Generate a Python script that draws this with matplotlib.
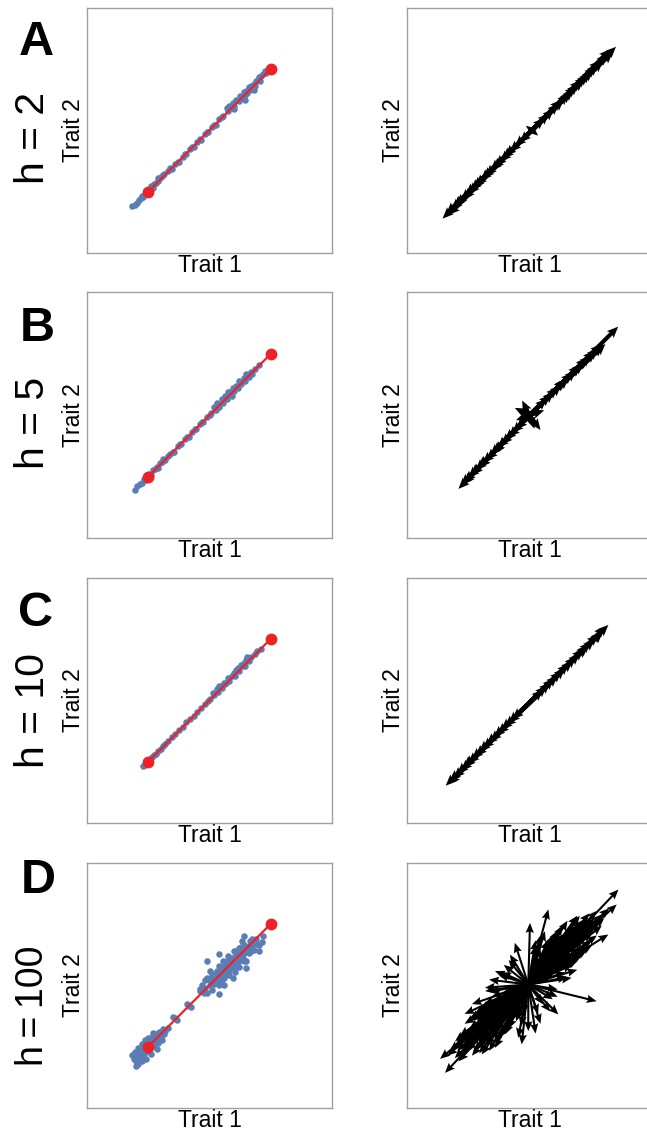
import matplotlib
matplotlib.use("Agg")
import matplotlib.pyplot as plt

W, H = 647, 1135
plt.rcParams['font.family'] = ['Liberation Sans', 'DejaVu Sans']

BLUE = "#5b7db6"
RED = "#eb2328"
SPINE = "#a0a0a0"

row_letters = ["A", "B", "C", "D"]
row_titles = ["h = 2", "h = 5", "h = 10", "h\u2009=\u2009100"]
x_label = "Trait 1"
y_label = "Trait 2"

# red path (start, end)
path_x = [0.25, 0.75]
path_y = [0.25, 0.75]

# ---- scatter points (left panels) ----
ax_A = [0.185,0.195,0.205,0.212,0.22,0.225,0.23,0.238,0.245,0.25,0.258,0.265,0.27,0.275,0.282,0.29,0.295,0.30,0.305,0.31,0.315,
        0.34,0.37,0.40,0.43,0.46,0.49,0.52,0.55,
        0.57,0.575,0.58,0.59,0.595,0.60,0.61,0.62,0.625,0.63,0.64,0.645,0.65,0.655,0.66,0.665,0.67,0.68,0.685,0.69,0.70,0.705,0.71,0.72,0.725,0.73,
        0.578,0.645,0.60,0.68,0.26,0.29,
        0.33,0.345,0.36,0.375,0.39,0.405,0.42,0.435,0.45,0.465,0.48,0.495,0.51,0.525,0.54,0.555]
ay_A = [0.190,0.195,0.205,0.214,0.225,0.232,0.228,0.24,0.255,0.248,0.262,0.27,0.265,0.282,0.285,0.295,0.302,0.31,0.315,0.318,0.32,
        0.345,0.372,0.403,0.433,0.463,0.492,0.523,0.555,
        0.59,0.58,0.595,0.59,0.61,0.6,0.625,0.62,0.64,0.63,0.655,0.642,0.66,0.65,0.675,0.665,0.68,0.69,0.68,0.70,0.715,0.70,0.72,0.73,0.74,0.735,
        0.598,0.625,0.585,0.665,0.272,0.305,
        0.334,0.343,0.363,0.372,0.393,0.402,0.423,0.432,0.453,0.462,0.483,0.492,0.514,0.522,0.544,0.56]

ax_B = [0.195,0.205,0.215,0.225,0.232,0.24,0.248,0.255,0.262,0.27,0.278,0.285,0.29,0.298,0.305,0.312,0.32,0.33,
        0.35,0.38,0.41,0.44,0.47,0.50,
        0.52,0.525,0.535,0.54,0.55,0.555,0.565,0.57,0.58,0.585,0.595,0.60,0.61,0.615,0.625,0.63,0.64,0.645,0.655,0.66,0.67,0.675,0.685,0.70,
        0.53,0.575,0.59,0.62,0.65,
        0.34,0.355,0.37,0.385,0.40,0.415,0.43,0.445,0.46,0.475,0.49,0.505]
ay_B = [0.197,0.21,0.218,0.225,0.24,0.236,0.252,0.262,0.258,0.275,0.28,0.29,0.285,0.305,0.31,0.32,0.318,0.335,
        0.352,0.382,0.412,0.442,0.472,0.503,
        0.535,0.52,0.545,0.535,0.565,0.55,0.58,0.565,0.595,0.585,0.61,0.60,0.62,0.612,0.635,0.628,0.65,0.64,0.665,0.657,0.675,0.67,0.69,0.705,
        0.55,0.595,0.58,0.64,0.67,
        0.343,0.352,0.373,0.382,0.403,0.412,0.433,0.442,0.463,0.472,0.493,0.508]

ax_C = [0.228,0.235,0.242,0.25,0.258,0.265,0.272,0.28,0.29,0.30,0.31,
        0.33,0.36,0.39,0.42,0.45,0.48,0.50,
        0.515,0.52,0.53,0.535,0.545,0.55,0.56,0.565,0.575,0.58,0.59,0.60,0.605,0.615,0.62,0.63,0.64,0.645,0.655,0.66,0.67,0.685,0.71,
        0.54,0.57,0.61,0.635,0.65,
        0.32,0.345,0.375,0.405,0.435,0.465,0.495,0.695]
ay_C = [0.234,0.238,0.25,0.255,0.262,0.27,0.275,0.283,0.292,0.302,0.312,
        0.333,0.362,0.392,0.422,0.452,0.483,0.505,
        0.53,0.52,0.545,0.535,0.56,0.55,0.572,0.565,0.59,0.58,0.6,0.61,0.6,0.63,0.62,0.645,0.65,0.64,0.675,0.66,0.675,0.69,0.709,
        0.56,0.575,0.625,0.64,0.665,
        0.322,0.35,0.377,0.41,0.437,0.47,0.497,0.70]

ax_D = [0.185,0.19,0.195,0.20,0.205,0.21,0.215,0.22,0.225,0.23,0.23,0.235,0.24,0.245,0.25,0.25,0.255,0.26,0.265,0.27,
        0.275,0.28,0.285,0.29,0.295,0.30,0.305,0.31,0.315,0.32,0.33,0.21,0.225,0.24,0.20,0.26,0.245,0.27,0.285,
        0.22,0.235,0.25,0.265,0.275,0.26,0.245,0.215,0.205,0.29,0.30,0.28,0.295,0.195,0.23,
        0.358,0.366,0.350,0.415,0.423,0.408,0.469,0.477,0.462,
        0.46,0.47,0.48,0.48,0.49,0.49,0.50,0.50,0.51,0.51,0.52,0.52,0.53,0.53,0.54,0.54,0.545,0.55,0.555,0.56,
        0.56,0.57,0.57,0.575,0.58,0.58,0.59,0.59,0.60,0.60,0.605,0.61,0.615,0.62,0.62,0.63,0.635,0.64,0.645,0.65,
        0.655,0.66,0.665,0.67,0.68,0.685,0.69,0.70,0.713,0.672,0.631,0.537,0.489,0.72,0.65,0.595,0.64,0.70,0.54,0.56,
        0.55,0.56,0.57,0.58,0.59,0.60,0.61,0.62,0.63,0.64,0.65,0.66,0.53,0.54,0.55,0.57,0.58,0.60,0.62,0.63,
        0.66,0.675,0.52,0.56,0.61,0.64,0.67,0.69,0.51,0.50]
ay_D = [0.215,0.20,0.23,0.19,0.215,0.245,0.205,0.23,0.26,0.215,0.245,0.275,0.23,0.255,0.24,0.285,0.265,0.25,0.29,0.27,
        0.255,0.30,0.28,0.265,0.31,0.29,0.275,0.32,0.30,0.315,0.325,0.18,0.19,0.20,0.17,0.22,0.275,0.305,0.24,
        0.245,0.26,0.26,0.28,0.285,0.27,0.235,0.225,0.20,0.295,0.31,0.27,0.28,0.21,0.23,
        0.366,0.358,0.372,0.417,0.41,0.425,0.478,0.47,0.485,
        0.475,0.50,0.52,0.49,0.47,0.53,0.50,0.56,0.52,0.48,0.545,0.505,0.56,0.52,0.58,0.465,0.545,0.52,0.60,0.56,
        0.53,0.58,0.545,0.62,0.595,0.56,0.61,0.575,0.64,0.59,0.555,0.625,0.60,0.65,0.575,0.63,0.61,0.665,0.64,0.60,
        0.655,0.63,0.68,0.66,0.645,0.675,0.69,0.665,0.675,0.69,0.68,0.627,0.60,0.70,0.57,0.53,0.70,0.64,0.50,0.50,
        0.56,0.58,0.56,0.58,0.59,0.61,0.60,0.62,0.61,0.63,0.64,0.66,0.54,0.53,0.54,0.60,0.54,0.57,0.60,0.655,
        0.645,0.67,0.53,0.545,0.64,0.60,0.64,0.67,0.54,0.52]

scatter_x = [ax_A, ax_B, ax_C, ax_D]
scatter_y = [ay_A, ay_B, ay_C, ay_D]

# ---- arrows (right panels): common origin and vectors ----
origin_x = [0.51, 0.50, 0.49, 0.495]
origin_y = [0.50, 0.50, 0.48, 0.503]

u_A = [0.343,0.33,0.31,0.29,0.27,0.25,0.23,0.21,0.19,0.17,0.15,0.13,0.11,0.09,0.07,0.05,0.32,0.26,0.22,0.18,0.28,0.24,0.20,0.16,0.12,
       -0.365,-0.35,-0.33,-0.31,-0.29,-0.27,-0.25,-0.23,-0.21,-0.19,-0.17,-0.15,-0.13,-0.11,-0.09,-0.07,-0.05,-0.34,-0.28,-0.24,-0.32,-0.26,-0.20,-0.16,-0.12,
       0.025,-0.025]
v_A = [0.34,0.318,0.31,0.282,0.268,0.245,0.228,0.205,0.188,0.165,0.148,0.125,0.108,0.086,0.068,0.05,0.33,0.26,0.22,0.18,0.285,0.236,0.204,0.156,0.124,
       -0.36,-0.34,-0.325,-0.305,-0.285,-0.262,-0.245,-0.226,-0.205,-0.186,-0.165,-0.146,-0.128,-0.105,-0.088,-0.066,-0.05,-0.345,-0.28,-0.235,-0.312,-0.258,-0.196,-0.158,-0.116,
       -0.022,0.018]

u_B = [0.362,0.31,0.295,0.28,0.265,0.25,0.235,0.22,0.205,0.19,0.175,0.16,0.145,0.13,0.115,0.10,0.085,0.07,0.30,0.24,0.27,0.21,0.15,
       -0.29,-0.28,-0.265,-0.25,-0.235,-0.22,-0.205,-0.19,-0.175,-0.16,-0.145,-0.13,-0.115,-0.10,-0.085,-0.07,-0.055,-0.27,-0.21,-0.24,-0.15,
       0.045,-0.06,-0.03,0.06,0.02,-0.055]
v_B = [0.361,0.29,0.29,0.272,0.262,0.243,0.232,0.212,0.203,0.183,0.173,0.152,0.143,0.123,0.113,0.095,0.083,0.067,0.285,0.235,0.26,0.205,0.148,
       -0.30,-0.285,-0.272,-0.255,-0.243,-0.225,-0.212,-0.195,-0.182,-0.163,-0.152,-0.133,-0.12,-0.102,-0.09,-0.072,-0.058,-0.28,-0.215,-0.245,-0.155,
       -0.06,0.03,0.06,0.02,-0.055,-0.02]

u_C = [0.332,0.32,0.305,0.29,0.275,0.26,0.245,0.23,0.215,0.20,0.185,0.17,0.155,0.14,0.125,0.11,0.095,0.08,0.065,0.31,0.25,
       -0.332,-0.315,-0.30,-0.285,-0.27,-0.255,-0.24,-0.225,-0.21,-0.195,-0.18,-0.165,-0.15,-0.135,-0.12,-0.105,-0.09,-0.075,-0.06,-0.32,-0.26]
v_C = [0.327,0.32,0.298,0.288,0.268,0.257,0.238,0.228,0.21,0.197,0.18,0.168,0.15,0.138,0.12,0.108,0.092,0.078,0.063,0.30,0.245,
       -0.328,-0.31,-0.298,-0.28,-0.268,-0.25,-0.238,-0.22,-0.208,-0.19,-0.178,-0.16,-0.148,-0.13,-0.118,-0.1,-0.088,-0.072,-0.058,-0.322,-0.255]

u_D = [0.368,0.361,0.327,0.279,0.245,0.300,0.150,0.204,0.177,0.123,0.082,0.007,0.068,0.30,0.25,0.22,0.28,0.20,0.18,0.26,
       0.16,0.14,0.12,0.10,0.24,0.31,0.19,0.23,0.13,0.27,0.09,0.05,0.03,0.15,0.20,0.11,0.33,0.21,0.17,0.29,
       -0.36,-0.34,-0.299,-0.19,-0.136,-0.041,-0.027,0.0,-0.231,-0.095,-0.285,-0.176,-0.136,-0.177,-0.075,-0.055,-0.23,-0.32,-0.30,-0.26,
       -0.25,-0.22,-0.20,-0.18,-0.16,-0.28,-0.24,-0.14,-0.12,-0.10,-0.21,-0.27,-0.33,-0.15,-0.06,-0.02,0.03,0.05,-0.20,-0.26,
       -0.13,-0.09,-0.16,-0.11,0.09,0.12,0.06,-0.30,-0.23,-0.17,
       0.10,0.12,0.14,0.16,0.18,0.20,0.22,0.24,0.26,0.08,0.10,0.12,0.14,0.16,0.18,0.20,0.22,0.25,
       0.11,0.13,0.15,0.17,0.19,0.21,0.23,0.25,0.27,0.06,0.09,0.12,0.14,0.06,0.08,0.05,0.04,0.10,
       -0.10,-0.12,-0.14,-0.16,-0.18,-0.20,-0.22,-0.24,-0.26,-0.08,-0.10,-0.12,-0.14,-0.16,-0.18,-0.20,-0.22,
       -0.11,-0.13,-0.15,-0.17,-0.19,-0.21,-0.23,-0.25,-0.27,-0.06,-0.09,-0.12,-0.14,-0.06,-0.08,-0.05,-0.04,-0.10,-0.29,
       0.15,0.18,0.20,0.22,0.16,0.05,0.08,0.10,0.12,0.03,0.24,0.14,0.26,0.16,0.19,0.13,0.21,0.15,0.28,0.20,0.23,0.19,
       -0.15,-0.18,-0.20,-0.22,-0.16,-0.05,-0.08,-0.10,-0.12,-0.03,-0.24,-0.14,-0.26,-0.16,-0.19,-0.13,-0.21,-0.15,-0.28,-0.20,-0.23,-0.19,
       -0.12,-0.10,-0.08,0.10,0.12,0.04]
v_D = [0.387,0.326,0.204,-0.068,0.257,0.285,0.190,0.101,0.027,-0.122,0.306,0.251,0.217,0.24,0.22,0.25,0.30,0.18,0.21,0.18,
       0.15,0.17,0.13,0.12,0.27,0.27,0.24,0.15,0.20,0.23,0.16,0.20,0.18,0.09,0.06,0.07,0.31,0.28,0.12,0.25,
       -0.303,-0.36,-0.231,-0.285,-0.258,-0.217,-0.244,-0.19,-0.147,-0.203,-0.313,-0.027,0.055,-0.013,0.122,0.17,-0.08,-0.27,-0.30,-0.24,
       -0.27,-0.20,-0.23,-0.16,-0.19,-0.22,-0.18,-0.12,-0.15,-0.09,-0.26,-0.28,-0.29,-0.22,-0.14,-0.12,-0.20,-0.16,-0.11,-0.12,
       -0.08,-0.03,0.02,0.05,-0.11,-0.05,-0.08,-0.25,-0.29,-0.25,
       0.08,0.10,0.11,0.13,0.15,0.16,0.18,0.20,0.21,0.10,0.13,0.15,0.18,0.20,0.22,0.24,0.26,0.29,
       0.11,0.13,0.15,0.17,0.19,0.21,0.23,0.25,0.27,0.12,0.15,0.07,0.08,0.05,0.06,0.08,0.12,0.04,
       -0.08,-0.10,-0.11,-0.13,-0.15,-0.16,-0.18,-0.20,-0.22,-0.10,-0.13,-0.16,-0.18,-0.21,-0.23,-0.25,-0.27,
       -0.11,-0.13,-0.15,-0.17,-0.19,-0.21,-0.23,-0.25,-0.26,-0.12,-0.16,-0.06,-0.07,-0.05,-0.06,-0.09,-0.14,-0.03,-0.27,
       0.05,0.08,0.10,0.12,0.03,0.15,0.18,0.20,0.22,0.16,0.14,0.24,0.16,0.26,0.13,0.19,0.15,0.21,0.20,0.28,0.19,0.23,
       -0.05,-0.08,-0.10,-0.12,-0.03,-0.15,-0.18,-0.20,-0.22,-0.17,-0.14,-0.24,-0.16,-0.27,-0.13,-0.19,-0.15,-0.21,-0.21,-0.28,-0.19,-0.24,
       0.04,0.08,0.10,-0.06,-0.02,-0.12]

arrow_u = [u_A, u_B, u_C, u_D]
arrow_v = [v_A, v_B, v_C, v_D]

# arrow styling per row (thin band rows vs. star row)
arrow_width = [0.017, 0.017, 0.017, 0.0085]
arrow_headwidth = [2.3, 2.3, 2.3, 4.0]
arrow_headlength = [2.7, 2.7, 2.7, 4.8]
arrow_headaxis = [2.4, 2.4, 2.4, 4.2]

# ---- layout (pixels) ----
fig = plt.figure(figsize=(W / 100, H / 100), dpi=100)
row_tops = [7.5, 292.5, 577.5, 862.5]
panel_w, panel_h = 245, 245.5
left_x, right_x = 87, 407
letter_base = [55, 341, 626, 893]
letter_x = [36, 37, 36, 38]
title_y = [138, 423, 710, 1006]
title_size = [29.5, 29.5, 29.5, 27]


def style(ax):
    ax.set_xlim(0, 1)
    ax.set_ylim(0, 1)
    ax.set_xticks([])
    ax.set_yticks([])
    for s in ax.spines.values():
        s.set_color(SPINE)
        s.set_linewidth(1.0)
    ax.set_xlabel(x_label, fontsize=16.5, labelpad=1)
    ax.set_ylabel(y_label, fontsize=16.5, labelpad=1.5)


for i in range(4):
    top = row_tops[i]
    bottom = 1 - (top + panel_h) / H
    axl = fig.add_axes([left_x / W, bottom, panel_w / W, panel_h / H])
    axr = fig.add_axes([right_x / W, bottom, 252 / W, panel_h / H])
    style(axl)
    style(axr)
    axr.set_xlim(0, 252 / panel_w)
    axr.xaxis.label.set_x(panel_w / 252 / 2)

    axl.scatter(scatter_x[i], scatter_y[i], s=22, color=BLUE, linewidths=0, zorder=2)
    axl.plot(path_x, path_y, color=RED, lw=1.6, zorder=3)
    axl.plot(path_x, path_y, 'o', color=RED, ms=7.5, zorder=4)

    n = len(arrow_u[i])
    axr.quiver([origin_x[i]] * n, [origin_y[i]] * n, arrow_u[i], arrow_v[i],
               angles='xy', scale_units='xy', scale=1, color='black',
               width=arrow_width[i] * panel_w / 252, headwidth=arrow_headwidth[i],
               headlength=arrow_headlength[i], headaxislength=arrow_headaxis[i])

    fig.text(letter_x[i] / W, 1 - letter_base[i] / H, row_letters[i], fontsize=35,
             fontweight='bold', ha='center', va='baseline')
    fig.text(33 / W, 1 - title_y[i] / H, row_titles[i], fontsize=title_size[i],
             rotation=90, ha='center', va='center')

fig.savefig("out.png", dpi=100)
